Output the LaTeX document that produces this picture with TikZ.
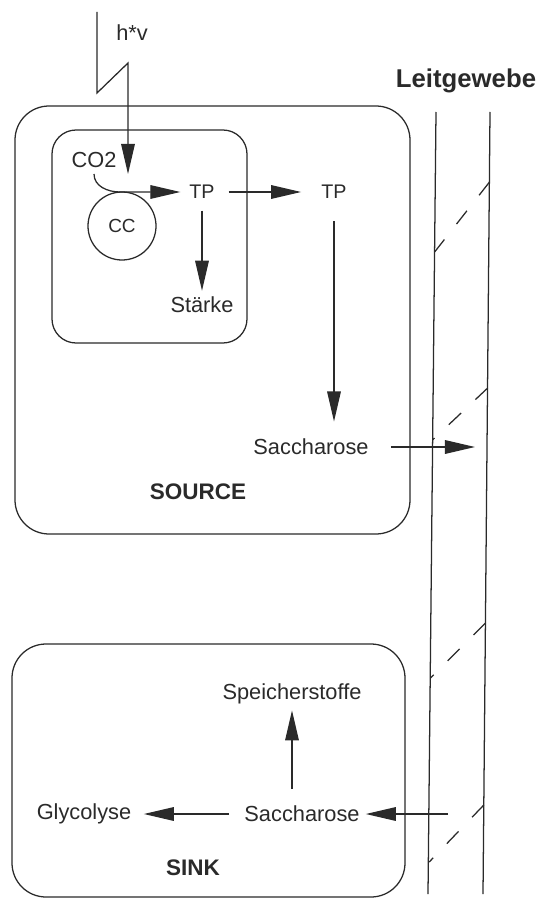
\documentclass[tikz,border=0pt]{standalone}
\usepackage{fontspec}
\setmainfont{Liberation Sans}
\usepackage{xcolor}
\usetikzlibrary{positioning}
\usetikzlibrary{arrows.meta}

\definecolor{ink}{HTML}{2A2A2A}

\begin{document}
\begin{tikzpicture}[
      x=0.025cm, y=-0.025cm,
      >={Triangle[length=7.5mm,width=3.4mm]},
      line width=0.9pt, draw=ink,
      cell/.style={draw=ink, rectangle, rounded corners=0.85cm},
      flow/.style={->, ink},
      wall/.style={draw=ink},
      plate/.style={draw=ink, dash pattern=on 12pt off 14pt},
      txt/.style={inner sep=4pt, text=ink, font=\fontsize{15.5}{18}\selectfont},
      title/.style={inner sep=4pt, text=ink, font=\fontsize{16}{18}\selectfont\bfseries}
    ]
    \useasboundingbox (0,0) rectangle (539,899);

    % cell boxes
    \draw[cell] (15,106) rectangle (410,534);
    \draw[cell, rounded corners=0.6cm] (52,130) rectangle (247,343);
    \draw[cell] (12,644) rectangle (405,897);

    % Leitgewebe (vessel walls and sieve plates)
    \draw[wall] (436,112) -- (428,894);
    \draw[wall] (490,112) -- (483,894);
    \draw[plate] (489.5,182) -- (434.6,252);
    \draw[plate] (487.7,388) -- (432.5,440);
    \draw[plate] (485.4,623) -- (430.5,678);
    \draw[plate] (483.8,805) -- (429.2,862);
    \node[title, font=\fontsize{18.3}{20}\selectfont\bfseries, anchor=base] (leit) at (466,88) {Leitgewebe};

    % source
    \node[txt] (hv) at (132,33) {h*v};
    \node[txt] (co2) at (94,160) {CO2};
    \node[circle, draw=ink, minimum size=1.7cm, inner sep=0pt, text=ink,
          font=\fontsize{13.5}{15}\selectfont] (cc) at (122,226) {CC};
    \node[txt, font=\fontsize{14}{16}\selectfont] (tp1) at (202,192) {TP};
    \node[txt, font=\fontsize{14}{16}\selectfont] (tp2) at (334,192) {TP};
    \node[txt] (staerke) at (202,305) {Stärke};
    \node[txt] (sacsrc) at (311,447) {Saccharose};
    \node[title] (source) at (198,492) {SOURCE};

    % sink
    \node[txt] (speicher) at (292,694) {Speicherstoffe};
    \node[txt] (sacsink) at (302,814) {Saccharose};
    \node[txt] (glyco) at (84,814) {Glycolyse};
    \node[title] (sink) at (193,868) {SINK};

    % light
    \coordinate (flashtop) at (97,12);
    \coordinate (flashlow) at (97,93);
    \coordinate (flashhigh) at (128,63);
    \coordinate (fixpoint) at (128,174);
    \draw[flow, line join=miter] (flashtop) -- (flashlow) -- (flashhigh) -- (fixpoint);

    % fixation and transport
    \coordinate (bend) at (120,192);
    \draw[flow, shorten >=2pt] (co2.south) to[out=-90,in=180] (bend) -- (tp1.west);
    \draw[flow, shorten <=5.5pt, shorten >=10pt] (tp1) -- (tp2);
    \draw[flow, shorten <=4pt] (tp1) -- (staerke);
    \draw[flow, shorten <=11.5pt, shorten >=8pt] (tp2.south) -- (tp2.south |- sacsrc.north);
    \coordinate (srcout) at (475,447);
    \draw[flow, shorten <=11.5pt] (sacsrc.east) -- (srcout);

    \coordinate (sinkin) at (448,814);
    \draw[flow] (sinkin) -- (sacsink.east);
    \draw[flow, shorten <=6.5pt, shorten >=4.5pt] (sacsink) -- (glyco);
    \draw[flow, shorten <=7.5pt] (speicher.south |- sacsink.north) -- (speicher.south);

  \end{tikzpicture}
\end{document}
